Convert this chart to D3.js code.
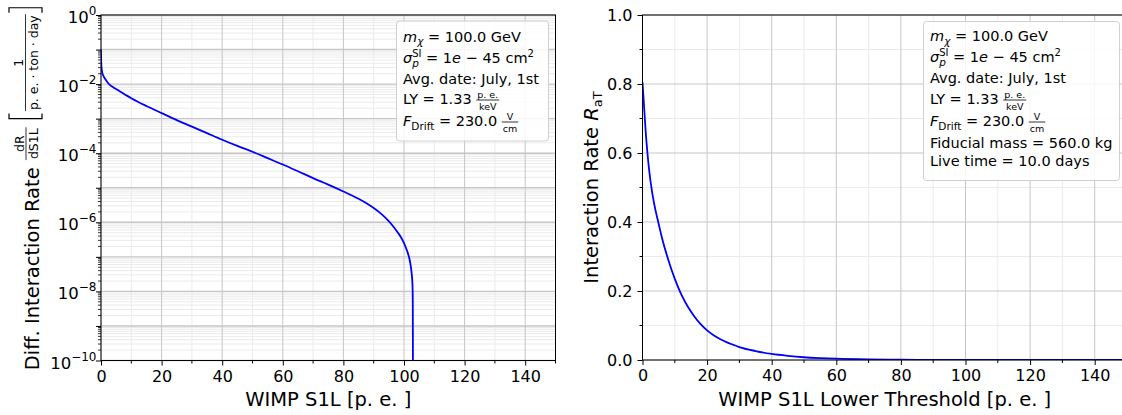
<!DOCTYPE html>
<html><head><meta charset="utf-8">
<script src="https://cdnjs.cloudflare.com/ajax/libs/d3/7.8.5/d3.min.js"></script>
<style>
body{margin:0;background:#fff}
text{font-family:"DejaVu Sans",sans-serif;fill:#000}
</style>
</head><body>
<svg id="c" width="1122" height="415"></svg>
<script>
// ---------- data ----------
const s1Left = [0, 0.05, 0.15, 0.3, 0.6, 1.0, 1.5, 2, 3, 4, 5, 6, 8, 10, 12, 15, 20, 25, 30, 35, 40, 45, 50, 55, 60, 65, 70, 75, 80, 85, 88, 90, 92, 94, 96, 98, 99, 100, 101, 101.5, 102, 102.5, 102.8, 102.9, 103.0];
const rateLeft = [1.0e-1, 5.0e-2, 3.2e-2, 2.4e-2, 1.9e-2, 1.6e-2, 1.35e-2, 1.17e-2, 9.3e-3, 8.1e-3, 7.2e-3, 6.3e-3, 4.95e-3, 3.9e-3, 3.13e-3, 2.32e-3, 1.45e-3, 9.1e-4, 5.9e-4, 3.8e-4, 2.45e-4, 1.62e-4, 1.1e-4, 7.2e-5, 4.7e-5, 3.0e-5, 1.9e-5, 1.23e-5, 7.8e-6, 4.8e-6, 3.4e-6, 2.6e-6, 1.9e-6, 1.32e-6, 8.5e-7, 5.0e-7, 3.7e-7, 2.5e-7, 1.5e-7, 1.1e-7, 7.1e-8, 3.5e-8, 1.6e-8, 5e-9, 1e-12];
const s1Right = [0, 1, 2, 3, 4, 5, 6, 8, 10, 12, 14, 16, 18, 20, 22, 24, 26, 28, 30, 35, 40, 45, 50, 55, 60, 70, 80, 90, 100, 120, 150];
const rateRight = [0.805, 0.66, 0.555, 0.485, 0.435, 0.395, 0.355, 0.29, 0.235, 0.19, 0.155, 0.127, 0.104, 0.086, 0.072, 0.061, 0.052, 0.0445, 0.0375, 0.026, 0.0175, 0.012, 0.008, 0.0055, 0.0037, 0.0017, 0.0008, 0.0004, 0.0002, 0.00005, 0];
const xTickValues = [0, 20, 40, 60, 80, 100, 120, 140];
const xMinorValues = [10, 30, 50, 70, 90, 110, 130, 150];
const yLogLabelExps = [0, -2, -4, -6, -8, -10];
const yLinTicks = [0, 0.2, 0.4, 0.6, 0.8, 1.0];
const yLinMinor = [0.1, 0.3, 0.5, 0.7, 0.9];
const xLabelLeft = "WIMP S1L [p. e. ]";
const xLabelRight = "WIMP S1L Lower Threshold [p. e. ]";
const legendDate = "Avg. date: July, 1st";
const legendExtra = ["Fiducial mass = 560.0 kg", "Live time = 10.0 days"];

// ---------- layout ----------
const svg = d3.select("#c");
const L = {x0: 101, x1: 555.5, y0: 15, y1: 360.5};
const R = {x0: 642.5, x1: 1127, y0: 15, y1: 360};
const TICK_FS = 16, LABEL_FS = 19.5, LEG_FS = 14.5, SMALL_FS = 10;
const MAJ_GRID = "#c6c6c6", MIN_GRID = "#ebebeb";

const xL = d3.scaleLinear().domain([0, 150]).range([L.x0, L.x1]);
const yL = d3.scaleLog().domain([1e-10, 1]).range([L.y1, L.y0]);
const xR = d3.scaleLinear().domain([0, 150]).range([R.x0, R.x1]);
const yR = d3.scaleLinear().domain([0, 1]).range([R.y1, R.y0]);

const decades = d3.range(-10, 1).map(e => Math.pow(10, e));
const logMinor = [];
for (let e = -10; e < 0; e++) for (let m = 2; m <= 9; m++) logMinor.push(m * Math.pow(10, e));

// rich text helper: sequential segments
function rich(g, x, y, segs, fs) {
  let cx = x, prevStart = x;
  segs.forEach(s => {
    if (s.frac) {
      const f = s.fs || SMALL_FS;
      const gap = s.gap != null ? s.gap : 1;
      const tn = g.append("text").attr("font-size", f).attr("text-anchor", "middle").text(s.frac[0]);
      const td = g.append("text").attr("font-size", f).attr("text-anchor", "middle").text(s.frac[1]);
      const w = Math.max(tn.node().getComputedTextLength(), td.node().getComputedTextLength()) + 2;
      const mid = cx + gap + w / 2;
      tn.attr("x", mid).attr("y", y + s.nb);
      td.attr("x", mid).attr("y", y + s.db);
      g.append("line").attr("x1", cx + gap).attr("x2", cx + gap + w).attr("y1", y + s.bar).attr("y2", y + s.bar)
        .attr("stroke", "#000").attr("stroke-width", s.sw || 0.8);
      prevStart = cx;
      cx = cx + gap + w + gap;
    } else if (s.bracket) {
      const b = s.bracket;
      const w = 5;
      const bx = cx + 1.5;
      let d;
      if (s.dir === "l") d = `M${bx + w},${y + b[0]} L${bx},${y + b[0]} L${bx},${y + b[1]} L${bx + w},${y + b[1]}`;
      else d = `M${bx},${y + b[0]} L${bx + w},${y + b[0]} L${bx + w},${y + b[1]} L${bx},${y + b[1]}`;
      g.append("path").attr("d", d).attr("fill", "none").attr("stroke", "#000").attr("stroke-width", 1.2);
      prevStart = cx;
      cx = cx + w + 4;
    } else {
      const sx = s.back ? prevStart : cx;
      const t = g.append("text").attr("x", sx + (s.dx || 0)).attr("y", y + (s.dy || 0))
        .attr("font-size", s.fs || fs).style("white-space", "pre").text(s.t);
      if (s.it) t.attr("font-style", "italic");
      const w = t.node().getComputedTextLength();
      if (!s.back) prevStart = sx;
      cx = Math.max(cx, sx + (s.dx || 0) + w);
    }
  });
  return cx - x;
}

// ---------- grids ----------
function vMinor(P, xs) {
  const g = svg.append("g");
  g.selectAll("line").data(xMinorValues.filter(v => xs(v) <= P.x1)).join("line")
    .attr("x1", d => xs(d)).attr("x2", d => xs(d)).attr("y1", P.y0).attr("y2", P.y1)
    .attr("stroke", MIN_GRID).attr("stroke-width", 1);
  return g;
}
{
  const g = vMinor(L, xL);
  g.selectAll(".hmin").data(logMinor).join("line").attr("class", "hmin")
    .attr("x1", L.x0).attr("x2", L.x1).attr("y1", d => yL(d)).attr("y2", d => yL(d))
    .attr("stroke", MIN_GRID).attr("stroke-width", 1);
  g.selectAll(".vmaj").data(xTickValues).join("line").attr("class", "vmaj")
    .attr("x1", d => xL(d)).attr("x2", d => xL(d)).attr("y1", L.y0).attr("y2", L.y1)
    .attr("stroke", MAJ_GRID).attr("stroke-width", 1);
  g.selectAll(".hmaj").data(decades).join("line").attr("class", "hmaj")
    .attr("x1", L.x0).attr("x2", L.x1).attr("y1", d => yL(d)).attr("y2", d => yL(d))
    .attr("stroke", MAJ_GRID).attr("stroke-width", 1.4);
}
{
  const g = vMinor(R, xR);
  g.selectAll(".hmin").data(yLinMinor).join("line").attr("class", "hmin")
    .attr("x1", R.x0).attr("x2", R.x1).attr("y1", d => yR(d)).attr("y2", d => yR(d))
    .attr("stroke", MIN_GRID).attr("stroke-width", 1);
  g.selectAll(".vmaj").data(xTickValues).join("line").attr("class", "vmaj")
    .attr("x1", d => xR(d)).attr("x2", d => xR(d)).attr("y1", R.y0).attr("y2", R.y1)
    .attr("stroke", MAJ_GRID).attr("stroke-width", 1);
  g.selectAll(".hmaj").data(yLinTicks).join("line").attr("class", "hmaj")
    .attr("x1", R.x0).attr("x2", R.x1).attr("y1", d => yR(d)).attr("y2", d => yR(d))
    .attr("stroke", MAJ_GRID).attr("stroke-width", 1);
}

// ---------- curves ----------
svg.append("defs").html(
  `<clipPath id="clipL"><rect x="${L.x0}" y="${L.y0}" width="${L.x1 - L.x0}" height="${L.y1 - L.y0}"/></clipPath>
   <clipPath id="clipR"><rect x="${R.x0}" y="${R.y0 - 1}" width="${R.x1 - R.x0}" height="${R.y1 - R.y0 + 1}"/></clipPath>`);

const lineL = d3.line().x((d, i) => xL(s1Left[i])).y((d, i) => yL(rateLeft[i])).curve(d3.curveMonotoneX);
svg.append("path").datum(rateLeft).attr("d", lineL).attr("clip-path", "url(#clipL)")
  .attr("fill", "none").attr("stroke", "#0000ff").attr("stroke-width", 1.8);

const lineR = d3.line().x((d, i) => xR(s1Right[i])).y((d, i) => yR(rateRight[i])).curve(d3.curveMonotoneX);
svg.append("path").datum(rateRight).attr("d", lineR).attr("clip-path", "url(#clipR)")
  .attr("fill", "none").attr("stroke", "#0000ff").attr("stroke-width", 1.8);

// ---------- axes ----------
function frame(P) {
  svg.append("rect").attr("x", P.x0).attr("y", P.y0).attr("width", P.x1 - P.x0).attr("height", P.y1 - P.y0)
    .attr("fill", "none").attr("stroke", "#000").attr("stroke-width", 1);
}
function xAxis(P, xs) {
  const g = svg.append("g").attr("transform", `translate(0,${P.y1})`);
  g.call(d3.axisBottom(xs).tickValues(xTickValues).tickSize(5).tickPadding(5).tickFormat(d3.format("d")))
    .call(a => a.select(".domain").remove())
    .call(a => a.selectAll("text").attr("font-size", TICK_FS).attr("font-family", "DejaVu Sans").attr("fill", "#000"));
  g.selectAll(".mt").data(xMinorValues.filter(v => xs(v) <= P.x1)).join("line")
    .attr("x1", d => xs(d)).attr("x2", d => xs(d)).attr("y1", 0).attr("y2", 3).attr("stroke", "#000");
}
xAxis(L, xL);
xAxis(R, xR);

{
  const g = svg.append("g").attr("transform", `translate(${L.x0},0)`);
  g.call(d3.axisLeft(yL).tickValues(decades).tickSize(5).tickFormat(""))
    .call(a => a.select(".domain").remove());
  g.selectAll(".mt").data(logMinor).join("line")
    .attr("x1", 0).attr("x2", -3).attr("y1", d => yL(d)).attr("y2", d => yL(d)).attr("stroke", "#000").attr("stroke-width", 0.8);
  yLogLabelExps.forEach(e => {
    const y = yL(Math.pow(10, e));
    const t = svg.append("text").attr("x", L.x0 - 4.5).attr("y", y + 8).attr("text-anchor", "end").attr("font-size", 16.5);
    t.append("tspan").text("10");
    t.append("tspan").attr("font-size", 12).attr("dy", -8).text(e === 0 ? "0" : "\u2212" + Math.abs(e));
  });
}
{
  const g = svg.append("g").attr("transform", `translate(${R.x0},0)`);
  g.call(d3.axisLeft(yR).tickValues(yLinTicks).tickSize(5).tickPadding(5).tickFormat(d3.format(".1f")))
    .call(a => a.select(".domain").remove())
    .call(a => a.selectAll("text").attr("font-size", TICK_FS).attr("font-family", "DejaVu Sans").attr("fill", "#000"));
  g.selectAll(".mt").data(yLinMinor).join("line")
    .attr("x1", 0).attr("x2", -3).attr("y1", d => yR(d)).attr("y2", d => yR(d)).attr("stroke", "#000");
}
frame(L);
frame(R);

// ---------- axis labels ----------
svg.append("text").attr("x", (L.x0 + L.x1) / 2).attr("y", 406).attr("text-anchor", "middle")
  .attr("font-size", LABEL_FS).text(xLabelLeft);
svg.append("text").attr("x", (R.x0 + R.x1) / 2).attr("y", 406).attr("text-anchor", "middle")
  .attr("font-size", LABEL_FS).text(xLabelRight);

{
  const outer = svg.append("g").attr("transform", `translate(39,${(L.y0 + L.y1) / 2}) rotate(-90)`);
  const g = outer.append("g");
  const w = rich(g, 0, 0, [
    {t: "Diff. Interaction Rate "},
    {frac: ["dR", "dS1L"], fs: 12.5, nb: -15.5, db: -1.5, bar: -13, gap: 1},
    {t: " "},
    {bracket: [-30, 3], dir: "l"},
    {frac: ["1", "p. e. \u00b7 ton \u00b7 day"], fs: 12.5, nb: -16, db: -1.5, bar: -13.5, gap: 0},
    {bracket: [-30, 3], dir: "r"}
  ], LABEL_FS);
  g.attr("transform", `translate(${-w / 2},0)`);
}
{
  const outer = svg.append("g").attr("transform", `translate(598,${(R.y0 + R.y1) / 2}) rotate(-90)`);
  const g = outer.append("g");
  const w = rich(g, 0, 0, [
    {t: "Interaction Rate "},
    {t: "R", it: true},
    {t: "aT", fs: 13, dy: 4}
  ], LABEL_FS);
  g.attr("transform", `translate(${-w / 2},0)`);
}

// ---------- legends ----------
function legendLines() {
  return [
    [{t: "m", it: true}, {t: "\u03c7", it: true, fs: 10.5, dy: 3.5}, {t: " = 100.0 GeV"}],
    [{t: "\u03c3", it: true}, {t: "SI", fs: 10, dy: -6}, {t: "p", it: true, fs: 10.5, dy: 4, back: true}, {t: " = 1"}, {t: "e", it: true}, {t: " \u2212 45 cm"}, {t: "2", fs: 10, dy: -6}],
    [{t: legendDate}],
    [{t: "LY = 1.33 "}, {frac: ["p. e.", "keV"], fs: 9.5, nb: -6.5, db: 5.5, bar: -4, gap: 0}],
    [{t: "F", it: true}, {t: "Drift", fs: 10.5, dy: 3.5}, {t: " = 230.0 "}, {frac: ["V", "cm"], fs: 9.5, nb: -6.5, db: 5.5, bar: -4, gap: 0}]
  ];
}
function legend(box, baselines, extra) {
  svg.append("rect").attr("x", box[0]).attr("y", box[1]).attr("width", box[2] - box[0]).attr("height", box[3] - box[1])
    .attr("rx", 3).attr("fill", "#fff").attr("fill-opacity", 0.85).attr("stroke", "#d0d0d0").attr("stroke-width", 1);
  const g = svg.append("g");
  const lines = legendLines().concat(extra.map(t => [{t}]));
  lines.forEach((segs, i) => rich(g, box[0] + 6.5, baselines[i], segs, LEG_FS));
}
legend([396.5, 21, 548.5, 141], [41.5, 62.5, 83.5, 104, 126], []);
legend([923.5, 21.5, 1119.5, 180.5], [41, 62, 83, 104, 126, 148, 166], legendExtra);
</script>
</body></html>
